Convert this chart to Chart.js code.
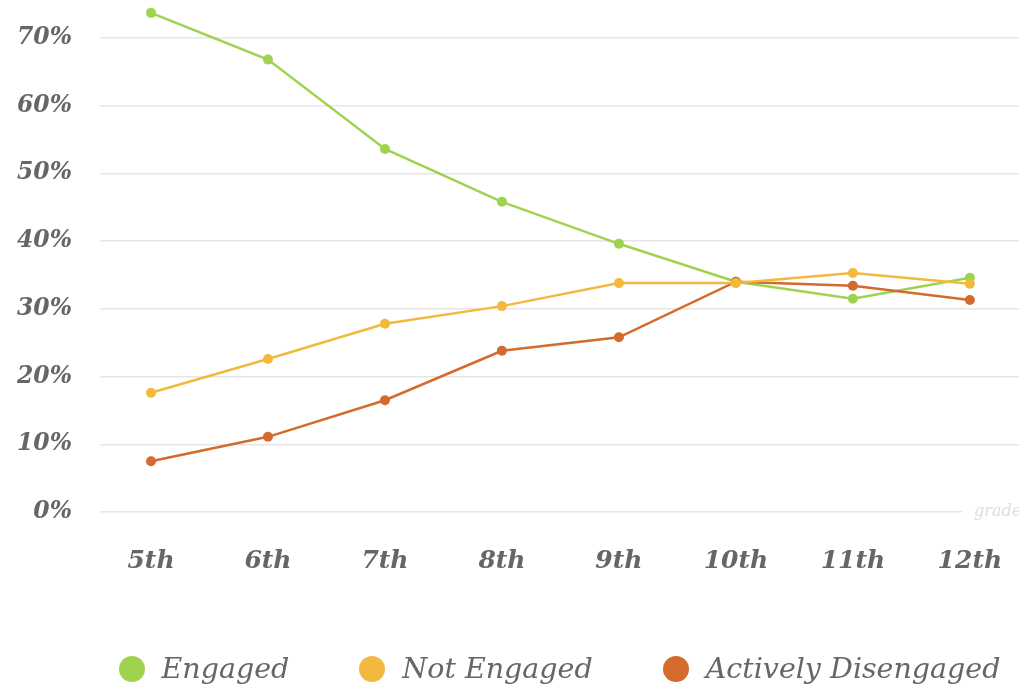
<!DOCTYPE html>
<html lang="en">

<head>
    <meta charset="UTF-8">
    <script src="https://cdn.jsdelivr.net/npm/chart.js"></script>
    <title>Engagement by grade</title>
</head>

<body>
    <div class="chart-wrapper">
        <canvas id="myChart"></canvas>
        <div id="legend"></div>
    </div>
    <style>
        body {
            background-color: #fff;
            margin: 0;
        }

        .chart-wrapper {
            position: relative;
            height: 685px;
            width: 1019px;
            overflow: hidden;
        }

        #legend {
            position: absolute;
            left: 100px;
            right: 0;
            top: 650px;
            display: flex;
            justify-content: center;
            gap: 70px;
            font-family: 'DejaVu Serif', serif;
            font-style: italic;
            font-size: 28.5px;
            color: #666;
            line-height: 38px;
        }

        #legend .item {
            display: flex;
            align-items: center;
            gap: 17px;
            white-space: nowrap;
        }

        #legend .dot {
            width: 26px;
            height: 26px;
            border-radius: 50%;
        }
    </style>
    <script>
        const grades = ["5th", "6th", "7th", "8th", "9th", "10th", "11th", "12th"];
        const seriesNames = ["Engaged", "Not Engaged", "Actively Disengaged"];
        const engaged = [73.7, 66.8, 53.6, 45.8, 39.6, 34.0, 31.5, 34.6];
        const notEngaged = [17.6, 22.6, 27.8, 30.4, 33.8, 33.8, 35.3, 33.7];
        const activelyDisengaged = [7.5, 11.1, 16.5, 23.8, 25.8, 34.0, 33.4, 31.3];
        const yTicks = [0, 10, 20, 30, 40, 50, 60, 70];
        const colors = ["#9fd34f", "#f3b93e", "#d46a2b"];

        const toPoints = (values) => values.map((v, i) => ({ x: i, y: v }));

        const serif = "'DejaVu Serif', serif";

        // faint "grade" axis note at the right end of the zero line
        const gradeNote = {
            id: "gradeNote",
            afterDraw: (chart) => {
                const ctx = chart.ctx;
                const y = chart.scales.y.getPixelForValue(0);
                ctx.save();
                ctx.font = "italic 16px " + serif;
                ctx.textBaseline = "middle";
                ctx.textAlign = "left";
                const x = 974;
                ctx.fillStyle = "#fff";
                ctx.fillRect(x - 12, y - 3, 1019 - x + 12, 6);
                ctx.fillStyle = "#dddddd";
                ctx.fillText("grade", x, y);
                ctx.restore();
            }
        };

        Chart.defaults.color = "#666";
        Chart.defaults.font.family = serif;

        const ctx = document.getElementById("myChart");

        const chart = new Chart(ctx, {
            type: "line",
            data: {
                datasets: [
                    { label: seriesNames[0], data: toPoints(engaged), borderColor: colors[0], backgroundColor: colors[0], order: 2 },
                    { label: seriesNames[1], data: toPoints(notEngaged), borderColor: colors[1], backgroundColor: colors[1], order: 0 },
                    { label: seriesNames[2], data: toPoints(activelyDisengaged), borderColor: colors[2], backgroundColor: colors[2], order: 1 }
                ]
            },
            options: {
                responsive: true,
                maintainAspectRatio: false,
                animation: false,
                layout: { padding: 0, autoPadding: false },
                elements: {
                    line: { borderWidth: 2.5, tension: 0 },
                    point: { radius: 5, borderWidth: 0 }
                },
                scales: {
                    x: {
                        type: "linear",
                        min: -0.436,
                        max: 7.42,
                        border: { display: false },
                        grid: { display: false, drawTicks: false },
                        afterFit: (scale) => {
                            scale.height = 173;
                            scale.paddingLeft = 0;
                            scale.paddingRight = 0;
                        },
                        ticks: {
                            stepSize: 1,
                            includeBounds: false,
                            padding: 34,
                            maxRotation: 0,
                            autoSkip: false,
                            font: { size: 25, style: "italic", weight: "bold" },
                            callback: (v) => Number.isInteger(v) ? grades[v] : ""
                        }
                    },
                    y: {
                        min: 0,
                        max: 75.6,
                        border: { display: false },
                        grid: { color: "#e6e6e6", lineWidth: 1.5, drawTicks: false },
                        afterFit: (scale) => {
                            scale.width = 100;
                            scale.paddingTop = 0;
                            scale.paddingBottom = 0;
                        },
                        afterBuildTicks: (scale) => {
                            scale.ticks = yTicks.map((v) => ({ value: v }));
                        },
                        ticks: {
                            padding: 28,
                            font: { size: 23.5, style: "italic", weight: "bold" },
                            callback: (v) => v + "%"
                        }
                    }
                },
                plugins: {
                    legend: { display: false },
                    tooltip: { enabled: false }
                }
            },
            plugins: [gradeNote]
        });

        // legend below the plot, built from the datasets
        const legend = document.getElementById("legend");
        chart.data.datasets.forEach((ds) => {
            const item = document.createElement("div");
            item.className = "item";
            const dot = document.createElement("span");
            dot.className = "dot";
            dot.style.background = ds.borderColor;
            const label = document.createElement("span");
            label.textContent = ds.label;
            item.append(dot, label);
            legend.append(item);
        });
    </script>
</body>

</html>
